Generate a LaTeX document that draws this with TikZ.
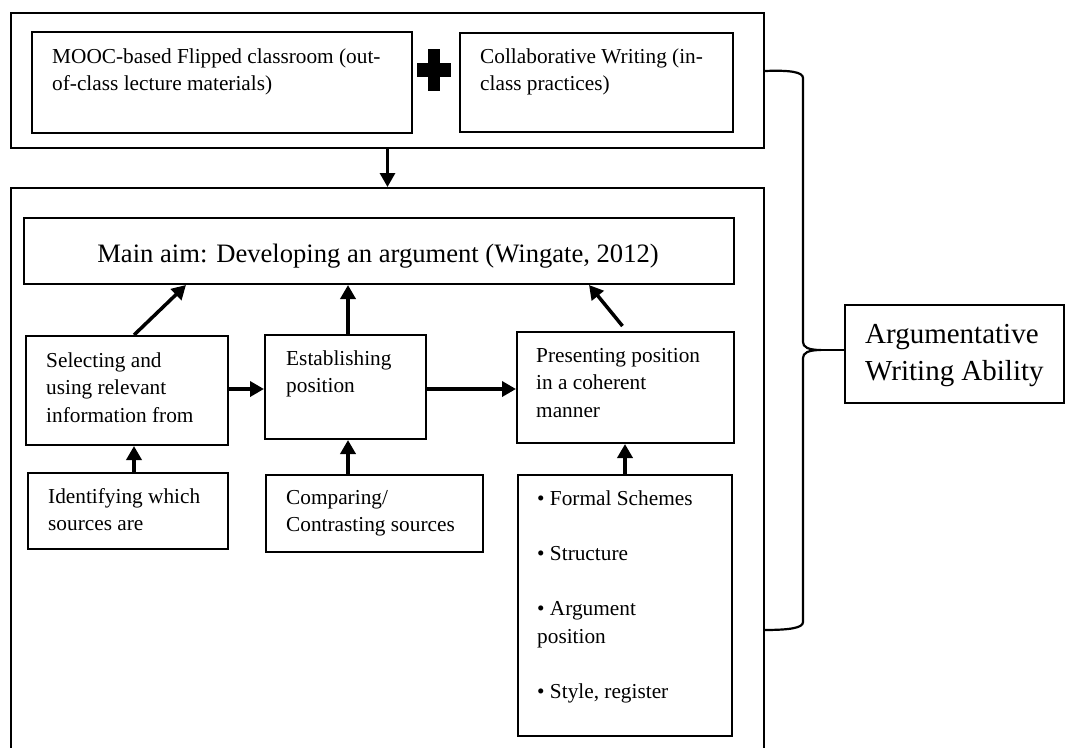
\documentclass[tikz,border=0pt]{standalone}
\usepackage{fontspec}
\setmainfont{Liberation Serif}
\usetikzlibrary{arrows.meta}
\begin{document}
\begin{tikzpicture}[x=1pt,y=-1pt,
  box/.style={draw=black, line width=2pt, inner sep=0pt, anchor=north west},
  arr/.style={line width=3.5pt, -{Triangle[length=14pt,width=15pt]}},
  txt/.style={inner sep=0pt, anchor=base west, font=\fontsize{21.3}{27.7}\selectfont},
  bracestyle/.style={line width=2.2pt}
]
\useasboundingbox (0,0) rectangle (1065,747);
\clip (0,0) rectangle (1065,747);

% boxes
\node[box, minimum width=753pt, minimum height=135pt] (top) at (10,12) {};
\node[box, minimum width=380pt, minimum height=101pt] (mooc) at (31,31) {};
\node[box, minimum width=273pt, minimum height=99pt] (collab) at (459,32) {};
\node[box, minimum width=753pt, minimum height=580pt] (lower) at (10,187) {};
\node[box, minimum width=710pt, minimum height=66pt] (main) at (23,217) {};
\node[box, minimum width=202pt, minimum height=109pt] (sel) at (25,335) {};
\node[box, minimum width=161pt, minimum height=104pt] (est) at (264,334) {};
\node[box, minimum width=217pt, minimum height=111pt] (pres) at (516,331) {};
\node[box, minimum width=200pt, minimum height=76pt] (ident) at (27,472) {};
\node[box, minimum width=217pt, minimum height=77pt] (comp) at (265,474) {};
\node[box, minimum width=214pt, minimum height=261pt] (bul) at (517,474) {};
\node[box, minimum width=219pt, minimum height=98pt] (arg) at (844,304) {};

% texts
\node[txt] (mooctxt) at (52,63) {\begin{tabular}[t]{@{}l@{}}MOOC-based Flipped classroom (out-\\of-class lecture materials)\end{tabular}};
\node[txt] (collabtxt) at (480,63) {\begin{tabular}[t]{@{}l@{}}Collaborative Writing (in-\\class practices)\end{tabular}};
\node[inner sep=0pt, anchor=base, font=\fontsize{26.6}{32}\selectfont] (maintxt) at (378,262) {Main aim: Developing an argument (Wingate, 2012)};
\node[txt] (seltxt) at (46,367) {\begin{tabular}[t]{@{}l@{}}Selecting and\\using relevant\\information from\end{tabular}};
\node[txt] (esttxt) at (286,365) {\begin{tabular}[t]{@{}l@{}}Establishing\\position\end{tabular}};
\node[txt] (prestxt) at (536,362) {\begin{tabular}[t]{@{}l@{}}Presenting position\\in a coherent\\manner\end{tabular}};
\node[txt] (identtxt) at (48,503) {\begin{tabular}[t]{@{}l@{}}Identifying which\\sources are\end{tabular}};
\node[txt] (comptxt) at (286,504) {\begin{tabular}[t]{@{}l@{}}Comparing/\\Contrasting sources\end{tabular}};
\node[txt] (bultxt) at (537,505) {\begin{tabular}[t]{@{}l@{}}• Formal Schemes\\ \\• Structure\\ \\• Argument\\position\\ \\• Style, register\end{tabular}};
\node[inner sep=0pt, anchor=base west, font=\fontsize{29}{37}\selectfont] (argtxt) at (865,343) {\begin{tabular}[t]{@{}l@{}}Argumentative\\Writing Ability\end{tabular}};

% plus sign
\fill (428,49) rectangle (440,91);
\fill (417,63) rectangle (451,77);

% arrows
\draw[arr, line width=3pt] (top.south) -- (top.south |- lower.north);
\draw[arr] ([xshift=7pt]sel.north) -- ([xshift=-193pt]main.south);
\coordinate (ce) at ([xshift=2.5pt]est.north);
\draw[arr] (ce) -- (ce |- main.south);
\draw[arr] ([xshift=-3pt,yshift=5pt]pres.north) -- ([xshift=210pt]main.south);
\coordinate (se) at ([yshift=1.5pt]sel.east);
\draw[arr] (se) -- (se -| est.west);
\coordinate (ee) at ([yshift=-2pt]est.east);
\draw[arr] (ee) -- (ee -| pres.west);
\coordinate (ci) at ([xshift=6pt]ident.north);
\draw[arr] (ci) -- (ci |- sel.south);
\coordinate (cs) at ([xshift=2.5pt]est.south);
\draw[arr] (cs |- comp.north) -- (cs);
\draw[arr] (bul.north) -- (bul.north |- pres.south);

% brace
\coordinate (b0) at ([yshift=9.5pt]top.east);
\coordinate (tip) at (821,350);
\draw[bracestyle] (b0) .. controls (790,70) and (803,72) .. (803,78) -- (803,342)
  .. controls (803,347) and (808,350) .. (tip)
  .. controls (808,350) and (803,353) .. (803,358) -- (803,622)
  .. controls (803,628) and (790,630) .. (763,630);
\draw[line width=2.6pt] (tip) -- (tip -| arg.west);
\end{tikzpicture}
\end{document}
